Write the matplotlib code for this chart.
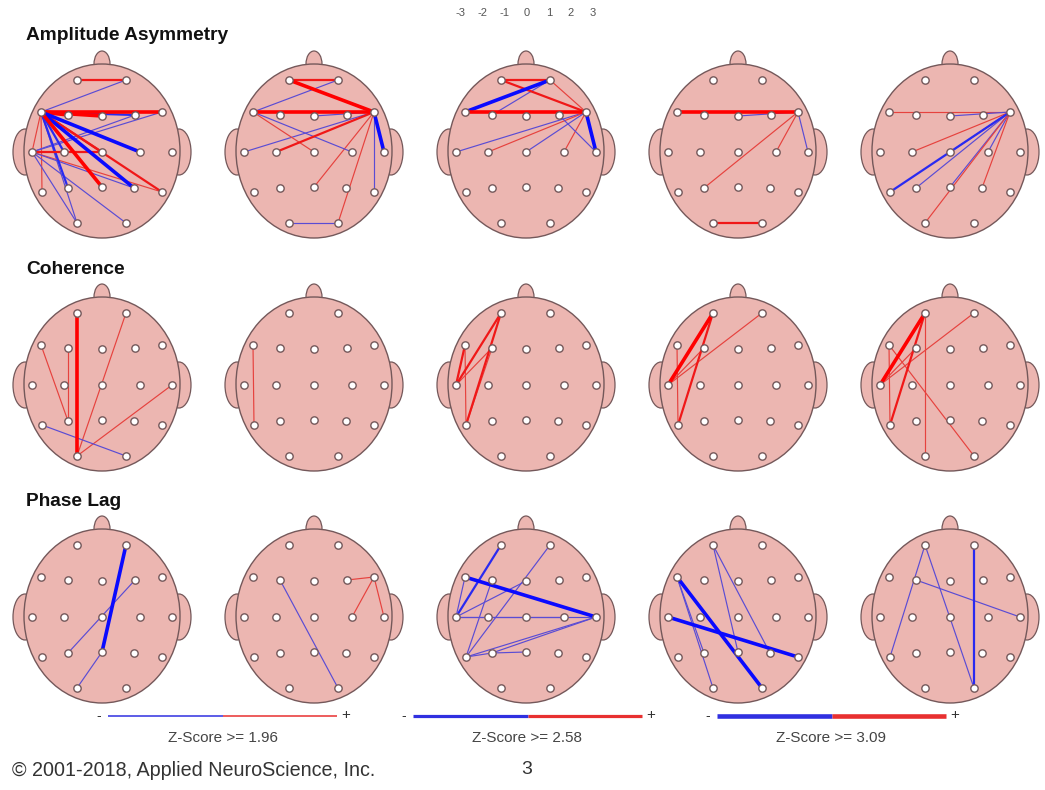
import matplotlib
matplotlib.use("Agg")
import matplotlib.pyplot as plt
from matplotlib.patches import Ellipse

plt.rcParams['font.family'] = ['Liberation Sans', 'DejaVu Sans']

# 10-20 electrodes, offsets from Cz in pixels (y grows downward)
electrodes = ["Fp1", "Fp2", "F7", "F3", "Fz", "F4", "F8", "T3", "C3", "Cz",
              "C4", "T4", "T5", "P3", "Pz", "P4", "T6", "O1", "O2"]
pos_x = [-25, 24, -61, -34, 0, 33, 60, -70, -38, 0, 38, 70, -60, -34, 0, 32, 60, -25, 24]
pos_y = [-72, -72, -40, -37, -36, -37, -40, 0, 0, 0, 0, 0, 40, 36, 35, 36, 40, 71, 71]

row_titles = ["Amplitude Asymmetry", "Coherence", "Phase Lag"]

# "A-B sL": s = r (positive) / b (negative), L = z-score level 1..3
amp_links = [
    ["Fp1-Fp2 r2", "Fp2-F7 b1", "F7-F8 r3", "F7-F4 b2", "F7-Fz r3", "F7-F3 r3",
     "F7-C4 b3", "F7-Cz r2", "F7-P4 b3", "F7-T6 r2", "F7-Pz r3", "F7-P3 b2",
     "F7-O1 b1", "F7-T5 r1", "F7-C3 b2", "F7-T3 r1", "F8-T3 b1", "F4-T3 b1",
     "T3-Cz r2", "T3-T6 r1", "T3-P4 b1", "T3-O1 b1", "T3-O2 b1"],
    ["Fp1-Fp2 r2", "Fp1-F8 r3", "Fp2-F7 b1", "F7-F8 r3", "Fz-F8 b1", "F8-T4 b3",
     "F8-T6 b1", "F8-T3 b1", "F8-C3 r2", "F8-Pz r1", "F8-O2 r1", "F7-C4 b1",
     "F7-Cz r1", "O1-O2 b1"],
    ["Fp1-Fp2 r2", "Fp2-F7 b3", "Fp2-F3 b1", "Fp1-F8 r2", "Fp2-F8 r1", "F7-F8 r3",
     "F8-T4 b3", "F8-T3 b1", "F8-C3 r1", "F8-Cz b1", "F8-C4 r1", "F4-T4 b1"],
    ["F7-F8 r3", "Fz-F8 b1", "F8-T4 b1", "F8-P3 r1", "F8-C4 r1", "O1-O2 r2"],
    ["F7-F8 r1", "Fz-F8 b1", "F8-C3 r1", "F8-T5 b2", "F8-P3 b1", "F8-Cz b1",
     "F8-Pz b1", "F8-C4 b1", "F8-O1 r1", "F8-P4 r1"],
]
coh_links = [
    ["Fp1-O1 r3", "Fp2-O1 r1", "F7-P3 r1", "F3-P3 r1", "T4-O1 r1", "T5-O2 b1"],
    ["F7-T5 r1"],
    ["Fp1-T3 r2", "Fp1-T5 r2", "F3-T5 r1", "F7-T3 r2", "F3-T3 r1", "F7-T5 r1"],
    ["Fp1-T3 r3", "Fp1-T5 r2", "Fp2-T3 r1", "F7-T5 r1", "F3-T3 r1"],
    ["Fp1-T3 r3", "Fp1-T5 r2", "Fp1-O1 r1", "Fp2-T3 r1", "F7-T5 r1", "F7-O2 r1",
     "F3-T3 r1"],
]
phase_links = [
    ["Fp2-Pz b3", "F4-P3 b1", "Pz-O1 b1"],
    ["F3-O2 b1", "F8-F4 r1", "F8-C4 r1", "F8-T4 r1"],
    ["F7-T4 b3", "Fp1-T3 b2", "Fp2-T5 b1", "T3-T4 b1", "T3-Fz b1", "T3-C4 b1",
     "T4-T5 b1", "T4-P3 b1", "T5-P3 b1", "P3-Pz b1", "F7-T3 b1", "F3-T5 b1"],
    ["F7-O2 b3", "T3-T6 b3", "Fp1-Pz b1", "Fp1-P4 b1", "F7-P3 b1", "F7-O1 b1"],
    ["Fp2-O2 b2", "Fp1-T5 b1", "Fp1-O2 b1", "F3-T4 b1"],
]
all_links = [amp_links, coh_links, phase_links]

thresholds = [1.96, 2.58, 3.09]
scale_ticks = [-3, -2, -1, 0, 1, 2, 3]

# layout (pixels)
col_x = [102, 314, 526, 738, 950]
row_y = [152, 385, 617]
title_y = [35, 269, 502]
HEAD = '#ecb6b1'
EDGE = '#74585a'
widths = {1: 0.85, 2: 1.6, 3: 2.6}
colors = {'r': {1: '#e6423e', 2: '#f01818', 3: '#ff0000'},
          'b': {1: '#5a4cd4', 2: '#2a2af0', 3: '#0a0aff'}}

fig = plt.figure(figsize=(10.45, 7.9), dpi=100)
ax = fig.add_axes([0, 0, 1, 1])
ax.set_xlim(0, 1045)
ax.set_ylim(790, 0)
ax.axis('off')

idx = {name: i for i, name in enumerate(electrodes)}

for r, panels in enumerate(all_links):
    ax.text(26, title_y[r], row_titles[r], fontsize=13.8, fontweight='bold',
            va='center', ha='left', color='#111111')
    for c, links in enumerate(panels):
        cx, cy = col_x[c], row_y[r]
        for sx in (-1, 1):
            ax.add_patch(Ellipse((cx + sx * 77, cy), 24, 46, fc=HEAD, ec=EDGE, lw=0.9, zorder=1))
        ax.add_patch(Ellipse((cx, cy - 88), 16, 26, fc=HEAD, ec=EDGE, lw=0.9, zorder=1))
        ax.add_patch(Ellipse((cx, cy - 1), 156, 174, fc=HEAD, ec=EDGE, lw=1.0, zorder=2))

        parsed = []
        for item in links:
            pair, code = item.split()
            a, b = pair.split('-')
            parsed.append((a, b, code[0], int(code[1])))
        parsed.sort(key=lambda t: t[3])
        for a, b, s, lvl in parsed:
            ia, ib = idx[a], idx[b]
            ax.plot([cx + pos_x[ia], cx + pos_x[ib]], [cy + pos_y[ia], cy + pos_y[ib]],
                    color=colors[s][lvl], lw=widths[lvl], solid_capstyle='round', zorder=3)

        ax.scatter([cx + x for x in pos_x], [cy + y for y in pos_y], s=28,
                   facecolor='white', edgecolor=EDGE, linewidths=1.0, zorder=5)

# colour scale tick labels at top
for t in scale_ticks:
    ax.text(527 + 22 * t, 13, str(t), fontsize=8, color='#555555', ha='center', va='center')

# z-score legends
leg_x = [108, 413, 717]
leg_len = 229
leg_w = [1.1, 2.3, 3.3]
for i, z in enumerate(thresholds):
    x0 = leg_x[i]
    ax.plot([x0, x0 + leg_len / 2], [716, 716], color='#3030e0', lw=leg_w[i], solid_capstyle='butt')
    ax.plot([x0 + leg_len / 2, x0 + leg_len], [716, 716], color='#e83030', lw=leg_w[i], solid_capstyle='butt')
    ax.text(x0 - 9, 716, '-', fontsize=10, ha='center', va='center', color='#333333')
    ax.text(x0 + leg_len + 9, 715, '+', fontsize=11, ha='center', va='center', color='#333333')
    ax.text(x0 + leg_len / 2, 738, f'Z-Score >= {z:.2f}', fontsize=11,
            ha='center', va='center', color='#444444')

ax.text(12, 770, '\u00a9 2001-2018, Applied NeuroScience, Inc.', fontsize=14.2,
        ha='left', va='center', color='#333333')
ax.text(527, 770, '3', fontsize=14, ha='center', va='center', color='#333333')

fig.savefig('out.png', dpi=100)
